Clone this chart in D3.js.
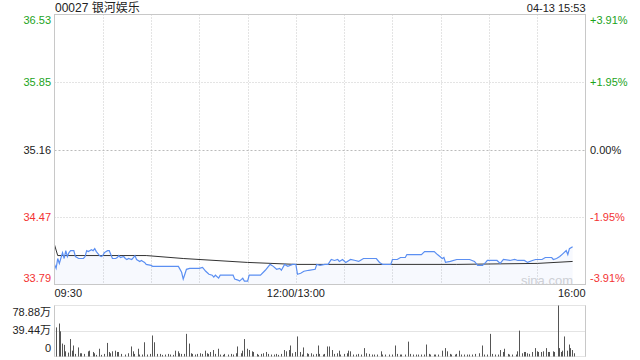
<!DOCTYPE html>
<html>
<head>
<meta charset="utf-8">
<script src="https://cdn.jsdelivr.net/npm/d3@7"></script>
<style>
  body { margin: 0; background: #fff; }
  svg text { font-family: Arial, "Liberation Sans", "Noto Sans CJK SC", sans-serif; }
</style>
</head>
<body>
<script>
// stock + header
var title = "00027 银河娱乐";
var stamp = "04-13 15:53";
var prevClose = 35.16;
var pctTicks = [3.91, 1.95, 0, -1.95, -3.91];
var timeLabels = ["09:30", "12:00/13:00", "16:00"];
var volTicks = [78.88, 39.44, 0];

// price line (trading minute from 09:30, price)
var priceMin = [0,1,2,3,5,6,7,8,9,10,12,13,15,18,19,20,21,23,24,25,26,28,29,30,31,33,34,35,36,38,39,40,41,43,44,45,46,48,49,50,51,53,54,55,56,57,60,61,66,72,77,79,80,81,82,84,87,90,92,94,96,98,99,100,102,103,108,111,112,114,115,117,118,120,
  121,125,128,131,134,136,138,140,141,143,145,148,150,151,153,155,158,162,163,165,168,170,172,174,176,177,179,181,184,187,189,190,192,197,200,202,204,209,210,213,215,218,219,224,228,230,233,236,238,241,242,243,246,250,255,258,261,263,266,268,269,272,275,277,279,283,286,288,292,294,297,299,303,305,309,310,312,314,316,318,319,320,322];
var priceVal = [33.99,33.95,34.05,34.00,34.11,34.05,34.13,34.07,34.11,34.13,34.13,34.07,34.05,34.05,34.07,34.13,34.12,34.14,34.13,34.15,34.12,34.08,34.07,34.08,34.11,34.13,34.13,34.09,34.05,34.05,34.06,34.08,34.06,34.07,34.05,34.04,34.05,34.04,34.06,34.08,34.04,34.02,34.03,34.02,34.01,33.99,33.98,33.97,33.97,33.97,33.97,33.91,33.84,33.89,33.94,33.95,33.95,33.95,33.96,33.92,33.89,33.88,33.86,33.88,33.85,33.88,33.88,33.88,33.84,33.83,33.82,33.85,33.82,33.82,
  33.88,33.88,33.88,33.93,33.99,33.97,33.94,33.95,33.93,33.99,33.97,33.99,33.99,33.89,33.90,33.92,33.93,33.94,33.99,33.98,33.99,33.99,34.04,34.03,34.04,34.02,34.04,34.01,34.04,34.03,34.02,34.03,34.05,34.05,34.05,34.01,33.99,33.99,34.04,34.04,34.06,34.06,34.09,34.09,34.09,34.12,34.12,34.12,34.09,34.05,34.06,34.01,34.02,34.04,34.04,34.04,34.02,33.98,33.98,34.01,34.03,34.03,34.03,34.00,34.04,34.03,34.04,34.03,34.03,34.01,34.03,34.04,34.04,34.06,34.06,34.04,34.05,34.07,34.10,34.13,34.09,34.15,34.17];

// average price line
var avgMin = [0,2,57,80,120,150,250,300,322];
var avgVal = [34.19,34.08,34.08,34.05,34.01,33.99,33.99,34.00,34.02];

// volume (万)
var volMin = [0,2,3,4,5,6,8,9,10,11,12,14,15,16,18,20,21,23,24,25,27,28,30,32,33,34,35,37,38,39,41,43,45,47,48,49,51,52,54,55,57,59,60,61,63,65,66,68,70,71,73,74,76,77,78,80,81,83,84,85,87,88,90,91,93,94,95,96,98,99,101,102,104,105,107,109,110,112,113,115,116,117,119,120,122,123,125,126,128,129,131,132,134,136,137,138,140,142,143,145,146,147,149,150,152,153,154,156,157,159,160,162,163,
  164,166,167,169,170,172,173,175,176,177,179,181,182,183,185,187,188,190,192,193,195,197,198,200,202,203,205,207,209,211,212,214,215,217,219,220,222,224,225,227,229,230,232,233,235,236,238,240,242,243,245,246,248,249,251,252,254,256,257,259,261,263,265,266,268,270,271,273,275,276,278,279,281,282,284,286,287,288,290,291,292,293,294,296,298,299,300,302,303,305,306,307,309,310,312,313,314,315,316,318,319,320,321,322];
var volVal = [45,51,39,20,18,8,6,27,9,17,4,14,5,5,4,8,9,7,5,2.5,12,2.5,4,21,7,5,8,9,7,7,4,3,5,15.5,8,4,12,3,3,22,3,4,32.5,22,4,4,2.5,3,4,3,2.5,9,8,5,4,4,35,20,5,4,3,4,5,4,9,5,4,7,10,4,12,3,2.5,4,3,4,3,5,15.5,5,9,27,12,10,8,7,4,2.5,4,5,7,4,3,3,4,2.5,4,10,8,10,17,5,7,31,7,3,14,5,4,5,3,4,17,
  4,3,4,15.5,15.5,10,4,5,9,3,4,5,9,8,3,3,4,3,13,5,4,3,3,3,8,3,3,3,3,17,4,3,3,3,23,4,3,3,3,3,3,18.5,4,3,3,3,3,9,13,8,4,3,3,4,9,3,3,3,3,3,4,5,17,3,3,35,4,3,3,10,7,12,4,3,3,3,8,40,5,7,7,5,4,7,13,8,7,7,8,13,7,7,8,7,78.88,13,7,9,31,9,18.5,13,10,5];

var W = 640, H = 360;
var L = 54.5, R = 585.5, T = 14.5, B = 284.5;
var VT = 305.5, VB = 356.5;
var green = "#1ba31b", red = "#f33333", grid = "#c8c8c8";

var svg = d3.select("body").append("svg")
  .attr("width", W).attr("height", H);

var x = d3.scaleLinear().domain([0, 330]).range([L, R]);
var y = d3.scaleLinear()
  .domain([prevClose * (1 - 0.0391), prevClose * (1 + 0.0391)])
  .range([B, T]);
var yv = d3.scaleLinear().domain([0, 78.88]).range([VB, VT]);

function tickColor(p) { return p > 0 ? green : (p < 0 ? red : "#222"); }

// header
svg.append("text").attr("x", 55).attr("y", 12)
  .attr("font-size", 12).attr("fill", "#222").text(title);
svg.append("text").attr("x", R).attr("y", 12).attr("text-anchor", "end")
  .attr("font-size", 11).attr("fill", "#222").text(stamp);

// vertical grid, every 30 min
svg.append("g").selectAll("line")
  .data(d3.range(30, 330, 30))
  .enter().append("line")
  .attr("x1", function(d) { return Math.round(x(d)) + 0.5; })
  .attr("x2", function(d) { return Math.round(x(d)) + 0.5; })
  .attr("y1", T).attr("y2", B)
  .attr("stroke", grid).attr("stroke-dasharray", "1,2");

// horizontal grid
svg.append("g").selectAll("line")
  .data(pctTicks.slice(1, 4))
  .enter().append("line")
  .attr("x1", L).attr("x2", R)
  .attr("y1", function(d) { return Math.round(y(prevClose * (1 + d / 100))) + 0.5; })
  .attr("y2", function(d) { return Math.round(y(prevClose * (1 + d / 100))) + 0.5; })
  .attr("stroke", function(d) { return d === 0 ? "#bbb" : grid; })
  .attr("stroke-dasharray", function(d) { return d === 0 ? "2,2" : "1,2"; });

// watermark
svg.append("text").attr("x", 573).attr("y", 285).attr("text-anchor", "end")
  .attr("font-size", 13).attr("fill", "#d4d4d4").text("sina.com");

// price area + line
var pts = priceMin.map(function(m, i) { return [m, priceVal[i]]; });
svg.append("path").datum(pts)
  .attr("fill", "rgba(91,144,240,0.05)")
  .attr("d", d3.area().x(function(d) { return x(d[0]); })
    .y0(B).y1(function(d) { return y(d[1]); }));

var avgPts = avgMin.map(function(m, i) { return [m, avgVal[i]]; });
svg.append("path").datum(avgPts)
  .attr("fill", "none").attr("stroke", "#333").attr("stroke-width", 1)
  .attr("d", d3.line().x(function(d) { return x(d[0]); }).y(function(d) { return y(d[1]); }));

svg.append("path").datum(pts)
  .attr("fill", "none").attr("stroke", "#5b8ff2").attr("stroke-width", 1.2)
  .attr("d", d3.line().x(function(d) { return x(d[0]); }).y(function(d) { return y(d[1]); }));

// frame
svg.append("rect").attr("x", L).attr("y", T)
  .attr("width", R - L).attr("height", B - T)
  .attr("fill", "none").attr("stroke", "#c8c8c8");

// left / right labels
var n = pctTicks.length;
svg.append("g").selectAll("text")
  .data(pctTicks).enter().append("text")
  .attr("x", 51)
  .attr("y", function(d, i) {
    var yy = y(prevClose * (1 + d / 100));
    return yy + (i === 0 ? 9 : (i === n - 1 ? -3 : 4));
  })
  .attr("text-anchor", "end").attr("font-size", 11)
  .attr("fill", function(d) { return tickColor(d); })
  .text(function(d) { return (prevClose * (1 + d / 100)).toFixed(2); });

svg.append("g").selectAll("text")
  .data(pctTicks).enter().append("text")
  .attr("x", 590)
  .attr("y", function(d, i) {
    var yy = y(prevClose * (1 + d / 100));
    return yy + (i === 0 ? 9 : (i === n - 1 ? -3 : 4));
  })
  .attr("font-size", 11)
  .attr("fill", function(d) { return tickColor(d); })
  .text(function(d) { return (d > 0 ? "+" : "") + d.toFixed(2) + "%"; });

// time labels
svg.append("g").selectAll("text")
  .data(timeLabels).enter().append("text")
  .attr("x", function(d, i) { return [L, x(150), R][i]; })
  .attr("y", 297)
  .attr("text-anchor", function(d, i) { return ["start", "middle", "end"][i]; })
  .attr("font-size", 11).attr("fill", "#222")
  .text(function(d) { return d; });

// volume panel
svg.append("line").attr("x1", L).attr("x2", R).attr("y1", VT).attr("y2", VT)
  .attr("stroke", grid).attr("stroke-dasharray", "1,1");
svg.append("line").attr("x1", L).attr("x2", R)
  .attr("y1", Math.round(yv(39.44)) + 0.5).attr("y2", Math.round(yv(39.44)) + 0.5)
  .attr("stroke", grid).attr("stroke-dasharray", "1,1");
svg.append("line").attr("x1", L).attr("x2", R).attr("y1", VB).attr("y2", VB)
  .attr("stroke", grid).attr("stroke-dasharray", "1,1");
svg.append("line").attr("x1", L).attr("x2", L).attr("y1", VT).attr("y2", VB).attr("stroke", grid);
svg.append("line").attr("x1", R).attr("x2", R).attr("y1", VT).attr("y2", VB).attr("stroke", grid);

svg.append("g").selectAll("line")
  .data(volMin.map(function(m, i) { return [m, volVal[i]]; }))
  .enter().append("line")
  .attr("x1", function(d) { return Math.round(x(d[0])) + 1.5; })
  .attr("x2", function(d) { return Math.round(x(d[0])) + 1.5; })
  .attr("y1", VB).attr("y2", function(d) { return yv(d[1]); })
  .attr("stroke", "#555").attr("stroke-width", 1);

svg.append("g").selectAll("text")
  .data(volTicks).enter().append("text")
  .attr("x", 51)
  .attr("y", function(d, i) { return yv(d) + [10, 3, -5][i]; })
  .attr("text-anchor", "end").attr("font-size", 11).attr("fill", "#222")
  .text(function(d) { return d === 0 ? "0" : d.toFixed(2) + "万"; });
</script>
</body>
</html>
